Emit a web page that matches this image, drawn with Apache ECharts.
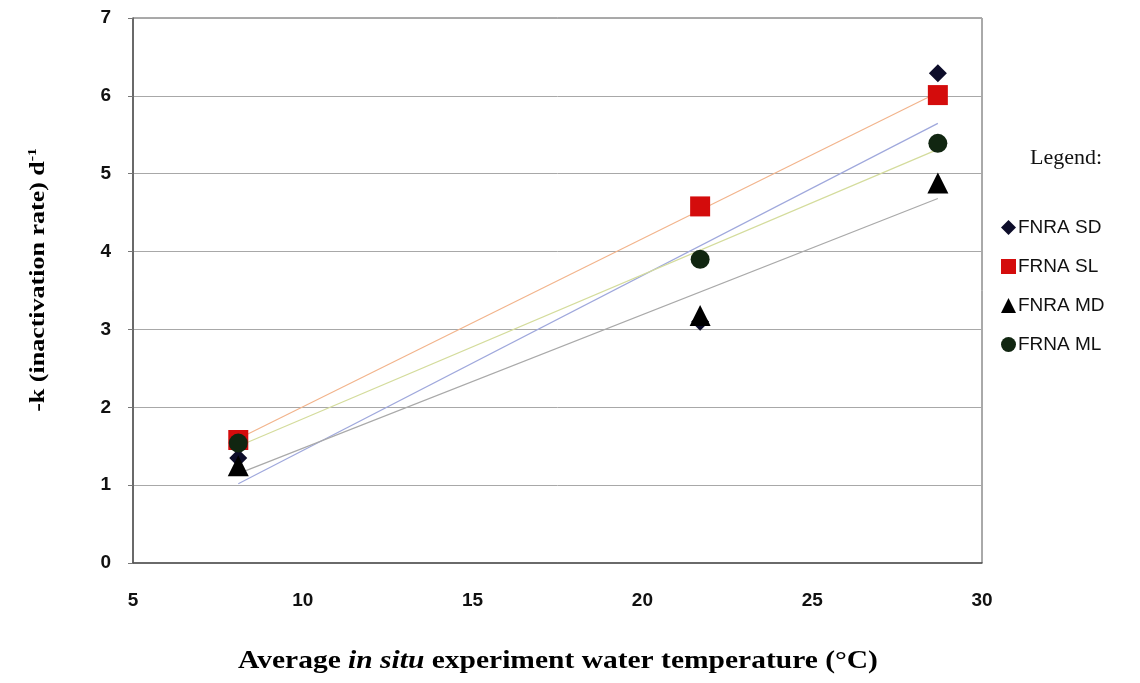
<!DOCTYPE html>
<html>
<head>
<meta charset="utf-8">
<script src="https://cdn.jsdelivr.net/npm/echarts@6/dist/echarts.min.js"></script>
<style>
  html, body { margin: 0; padding: 0; background: #fff; }
  #chart { width: 1140px; height: 683px; }
</style>
</head>
<body>
<div id="chart"></div>
<script>
// Average in situ water temperature of each experiment (°C)
const temperatures = [8.1, 21.7, 28.7];

// Inactivation rate -k (per day) for each treatment
const seriesNames = ['FNRA SD', 'FRNA SL', 'FNRA MD', 'FRNA ML'];
const fnraSD = [1.35, 3.10, 6.29];
const frnaSL = [1.58, 4.58, 6.01];
const fnraMD = [1.25, 3.18, 4.88];
const frnaML = [1.54, 3.90, 5.39];

const yTicks = [0, 1, 2, 3, 4, 5, 6, 7];
const xTicks = [5, 10, 15, 20, 25, 30];

const styles = [
  { symbol: 'diamond',  size: 18, color: '#0d0d2a', trend: '#9fa8dc' },
  { symbol: 'rect',     size: 20, color: '#d40c0c', trend: '#f2b48c' },
  { symbol: 'triangle', size: 21, color: '#000000', trend: '#a9a9a9' },
  { symbol: 'circle',   size: 19, color: '#112611', trend: '#d4dc9c' }
];
const values = [fnraSD, frnaSL, fnraMD, frnaML];

// Least-squares fit of each series, drawn between the first and last temperature
function fitLine(xs, ys) {
  const n = xs.length;
  const mx = xs.reduce((a, b) => a + b, 0) / n;
  const my = ys.reduce((a, b) => a + b, 0) / n;
  let sxy = 0, sxx = 0;
  for (let i = 0; i < n; i++) {
    sxy += (xs[i] - mx) * (ys[i] - my);
    sxx += (xs[i] - mx) * (xs[i] - mx);
  }
  const slope = sxy / sxx;
  const x0 = xs[0], x1 = xs[n - 1];
  return [[x0, my + slope * (x0 - mx)], [x1, my + slope * (x1 - mx)]];
}

const series = [];
values.forEach((ys, i) => {
  series.push({
    name: seriesNames[i] + ' trend',
    type: 'line',
    data: fitLine(temperatures, ys),
    showSymbol: false,
    silent: true,
    z: 1,
    lineStyle: { color: styles[i].trend, width: 1.2 }
  });
});
values.forEach((ys, i) => {
  series.push({
    name: seriesNames[i],
    type: 'scatter',
    data: temperatures.map((t, j) => [t, ys[j]]),
    symbol: styles[i].symbol,
    symbolSize: styles[i].size,
    z: 3,
    itemStyle: { color: styles[i].color, opacity: 1, borderWidth: 0 }
  });
});

// Axis titles: wide bold serif lettering
const titleFont = { fontFamily: 'Liberation Serif', fontWeight: 'bold', color: '#111' };

const chart = echarts.init(document.getElementById('chart'), null, { renderer: 'canvas' });
chart.setOption({
  animation: false,
  backgroundColor: '#ffffff',
  title: {
    text: 'Legend:',
    left: 1025,
    top: 142,
    textStyle: { fontFamily: 'Liberation Serif', fontSize: 22, fontWeight: 'normal', color: '#111' }
  },
  legend: {
    data: seriesNames.map((n, i) => ({ name: n, icon: styles[i].symbol })),
    orient: 'vertical',
    left: 996,
    top: 213,
    itemGap: 20,
    itemWidth: 15,
    itemHeight: 15,
    textStyle: { fontFamily: 'Liberation Sans', fontSize: 19, color: '#111', padding: [0, 0, 0, -3] }
  },
  graphic: [
    {
      type: 'text',
      x: 558,
      y: 662,
      scaleX: 1.18,
      style: {
        text: '{b|Average }{i|in situ}{b| experiment water temperature (°C)}',
        align: 'center',
        verticalAlign: 'middle',
        rich: {
          b: Object.assign({ fontSize: 25 }, titleFont),
          i: Object.assign({ fontSize: 25, fontStyle: 'italic' }, titleFont)
        }
      }
    },
    {
      type: 'text',
      x: 39,
      y: 280,
      rotation: Math.PI / 2,
      scaleX: 1.3,
      style: {
        text: '{b|-k (inactivation rate) d}{s|-1}',
        align: 'center',
        verticalAlign: 'middle',
        rich: {
          b: Object.assign({ fontSize: 20, lineHeight: 24 }, titleFont),
          s: Object.assign({ fontSize: 12, lineHeight: 24, verticalAlign: 'top', padding: [0, 0, 10, 0] }, titleFont)
        }
      }
    }
  ],
  grid: {
    left: 133, right: 158, top: 18, bottom: 120,
    outerBoundsMode: 'none',
    show: true, borderColor: '#555', borderWidth: 1
  },
  xAxis: {
    type: 'value',
    min: xTicks[0], max: xTicks[xTicks.length - 1], interval: 5,
    axisLine: { show: true, lineStyle: { color: '#555', width: 1.5 } },
    axisTick: { show: false },
    splitLine: { show: false },
    axisLabel: { margin: 28, fontFamily: 'Liberation Sans', fontWeight: 'bold', fontSize: 19, color: '#111' }
  },
  yAxis: {
    type: 'value',
    min: yTicks[0], max: yTicks[yTicks.length - 1], interval: 1,
    axisLine: { show: true, lineStyle: { color: '#555', width: 1.5 } },
    axisTick: { show: true, inside: false, length: 5, lineStyle: { color: '#777' } },
    splitLine: { show: true, lineStyle: { color: '#a8a8a8', width: 1 } },
    axisLabel: { margin: 22, fontFamily: 'Liberation Sans', fontWeight: 'bold', fontSize: 19, color: '#111' }
  },
  series: series
});
</script>
</body>
</html>
